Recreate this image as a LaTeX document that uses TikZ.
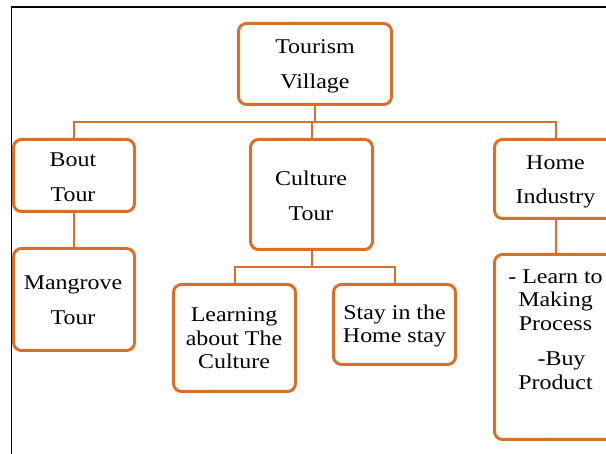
\documentclass[tikz,border=0pt]{standalone}
\usepackage{fontspec}
\setmainfont{Liberation Serif}[FakeStretch=1.14]
\definecolor{boxorange}{RGB}{214,112,44}
\begin{document}
\begin{tikzpicture}[x=1pt,y=-1pt,
  box/.style={draw=boxorange, line width=3pt, rounded corners=8pt, fill=white, inner sep=0pt},
  txt/.style={anchor=north, inner sep=0pt, align=center, font=\fontsize{21}{23.5}\selectfont},
  conn/.style={draw=boxorange, line width=2pt}]
\useasboundingbox (0,0) rectangle (606,454);
\fill[white] (0,0) rectangle (606,454);
\draw[black, line width=1.5pt] (11.5,7) rectangle (640,480);
% boxes
\node[box, minimum width=153pt, minimum height=81pt] (tv) at (315,64) {};
\node[box, minimum width=121pt, minimum height=72pt] (bout) at (74,175.5) {};
\node[box, minimum width=122pt, minimum height=110pt] (culture) at (311.5,194.5) {};
\node[box, minimum width=122pt, minimum height=79pt] (home) at (555.5,179) {};
\node[box, minimum width=121pt, minimum height=102pt] (mangrove) at (74,299.5) {};
\node[box, minimum width=122pt, minimum height=107pt] (learn) at (234.5,338) {};
\node[box, minimum width=122pt, minimum height=80pt] (stay) at (394.5,324.5) {};
\node[box, minimum width=122pt, minimum height=185pt] (proc) at (555.5,347) {};
% texts
\node[txt] (tvt) at (315,39.5) {Tourism\\[11.5pt]Village};
\node[txt] (boutt) at (73,152.5) {Bout\\[11.5pt]Tour};
\node[txt] (culturet) at (311,170.5) {Culture\\[11.5pt]Tour};
\node[txt] (homet) at (555.5,155.5) {Home\\[11pt]Industry};
\node[txt] (mangrovet) at (73,275.5) {Mangrove\\[11.5pt]Tour};
\node[txt] (learnt) at (234,307.5) {Learning\\about The\\Culture};
\node[txt] (stayt) at (394.5,304.5) {Stay in the\\Home stay};
\node[txt] (proct) at (555.5,269.5) {- Learn to\\Making\\Process\\[12pt]\hspace*{12pt}-Buy\\Product};
% connectors
\coordinate (bus) at (0,122);
\coordinate (bus2) at (0,267);
\draw[conn] (tv.south) -- (tv.south |- bus);
\draw[conn] (bout.north) |- (bus -| home.north) -- (home.north);
\draw[conn] (culture.north) -- (culture.north |- bus);
\draw[conn] (bout.south) -- (mangrove.north);
\draw[conn] (culture.south) -- (culture.south |- bus2);
\draw[conn] (learn.north) |- (bus2 -| stay.north) -- (stay.north);
\draw[conn] (home.south) -- (proc.north);
\end{tikzpicture}
\end{document}
